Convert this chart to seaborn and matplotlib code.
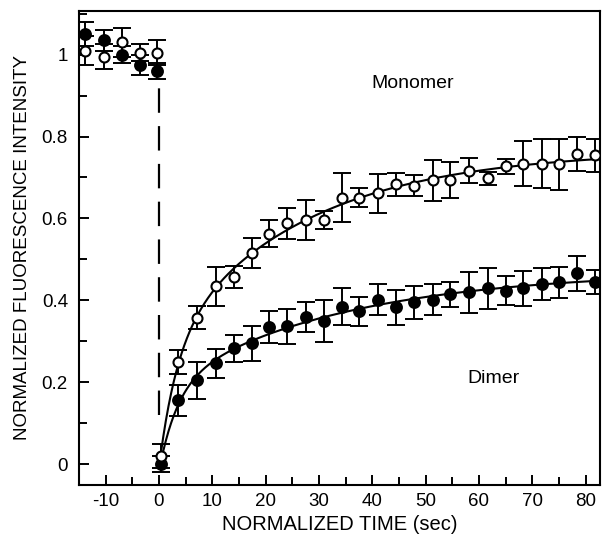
import numpy as np
import matplotlib
matplotlib.use("Agg")
import matplotlib.pyplot as plt
import seaborn as sns
from matplotlib.ticker import MultipleLocator, FixedLocator

# ---------------- data ----------------
time_pre = [-13.8, -10.3, -6.9, -3.5, -0.3]
mono_pre = [1.01, 0.995, 1.03, 1.005, 1.005]
mono_pre_err = [0.035, 0.03, 0.035, 0.02, 0.03]
dimer_pre = [1.05, 1.035, 1.0, 0.975, 0.96]
dimer_pre_err = [0.03, 0.025, 0.02, 0.025, 0.02]

time_bleach = [0.3]
mono_bleach = [0.02]
mono_bleach_err = [0.03]
dimer_bleach = [0.0]
dimer_bleach_err = [0.02]

time_post = [3.6, 7.1, 10.7, 14.1, 17.4, 20.6, 24.0, 27.6, 31.0, 34.3, 37.5, 41.0,
             44.5, 47.8, 51.4, 54.6, 58.2, 61.7, 65.0, 68.3, 71.9, 75.0, 78.4, 81.8]
mono_post = [0.249, 0.358, 0.434, 0.456, 0.515, 0.563, 0.588, 0.597, 0.597, 0.651, 0.651, 0.661,
             0.683, 0.680, 0.693, 0.693, 0.717, 0.698, 0.727, 0.734, 0.734, 0.732, 0.758, 0.754]
mono_post_err = [0.029, 0.028, 0.047, 0.027, 0.037, 0.033, 0.037, 0.049, 0.022, 0.059, 0.024, 0.047,
                 0.028, 0.025, 0.050, 0.044, 0.030, 0.016, 0.019, 0.054, 0.059, 0.062, 0.042, 0.041]
dimer_post = [0.156, 0.205, 0.246, 0.283, 0.295, 0.334, 0.337, 0.359, 0.349, 0.385, 0.373, 0.402,
              0.383, 0.395, 0.402, 0.415, 0.420, 0.429, 0.424, 0.429, 0.439, 0.444, 0.466, 0.444]
dimer_post_err = [0.038, 0.045, 0.036, 0.033, 0.043, 0.039, 0.043, 0.037, 0.051, 0.046, 0.035, 0.037,
                  0.042, 0.041, 0.038, 0.031, 0.050, 0.049, 0.036, 0.042, 0.039, 0.038, 0.042, 0.029]

x_ticks = [-10, 0, 10, 20, 30, 40, 50, 60, 70, 80]
y_ticks = [0, 0.2, 0.4, 0.6, 0.8, 1.0]
y_ticklabels = ["0", "0.2", "0.4", "0.6", "0.8", "1"]

# ---------------- style ----------------
sns.set_style("ticks")
plt.rcParams["font.family"] = ["Liberation Sans", "DejaVu Sans"]
plt.rcParams["axes.unicode_minus"] = False
plt.rcParams["text.color"] = "black"
plt.rcParams["axes.labelcolor"] = "black"
plt.rcParams["xtick.color"] = "black"
plt.rcParams["ytick.color"] = "black"

fig = plt.figure(figsize=(6.03, 5.39), dpi=100)
ax = fig.add_axes([0.131, 0.100, 0.864, 0.880])

t_all = np.array(time_pre + time_bleach + time_post)
mono_all = np.array(mono_pre + mono_bleach + mono_post)
mono_err_all = np.array(mono_pre_err + mono_bleach_err + mono_post_err)
dimer_all = np.array(dimer_pre + dimer_bleach + dimer_post)
dimer_err_all = np.array(dimer_pre_err + dimer_bleach_err + dimer_post_err)


def biexp_fit(t, y):
    """Least-squares recovery fit y = c + a(1-exp(-t/t1)) + b(1-exp(-t/t2))."""
    t = np.asarray(t); y = np.asarray(y)
    best = None
    for t1 in np.linspace(0.3, 8, 60):
        for t2 in np.linspace(8, 120, 80):
            X = np.column_stack([np.ones_like(t), 1 - np.exp(-t / t1), 1 - np.exp(-t / t2)])
            coef, *_ = np.linalg.lstsq(X, y, rcond=None)
            r = np.sum((X @ coef - y) ** 2)
            if best is None or r < best[0]:
                best = (r, t1, t2, coef)
    return best[1:]


tfit = np.linspace(0.3, 82.5, 500)
for ys in (mono_bleach + mono_post, dimer_bleach + dimer_post):
    t1, t2, coef = biexp_fit(time_bleach + time_post, ys)
    yfit = coef[0] + coef[1] * (1 - np.exp(-tfit / t1)) + coef[2] * (1 - np.exp(-tfit / t2))
    sns.lineplot(x=tfit, y=yfit, ax=ax, color="black", lw=1.5, zorder=2)

# vertical dashed line at photobleach
ax.plot([0, 0], [0.12, 0.925], color="black", lw=1.6, dashes=(11, 6), zorder=1)

# error bars
ekw = dict(fmt="none", ecolor="black", elinewidth=1.4, capsize=6.2, capthick=1.4, zorder=3)
ax.errorbar(t_all, dimer_all, yerr=dimer_err_all, **ekw)
ax.errorbar(t_all, mono_all, yerr=mono_err_all, **ekw)

# markers
sns.scatterplot(x=t_all, y=dimer_all, ax=ax, marker="o", s=65, color="black",
                edgecolor="black", linewidth=1.2, zorder=4)
sns.scatterplot(x=t_all, y=mono_all, ax=ax, marker="o", s=52, color="white",
                edgecolor="black", linewidth=1.5, zorder=5)

ax.text(47.5, 0.93, "Monomer", fontsize=14, ha="center", va="center")
ax.text(62.8, 0.21, "Dimer", fontsize=14, ha="center", va="center")

ax.set_xlim(-15, 82.7)
ax.set_ylim(-0.051, 1.107)
ax.xaxis.set_major_locator(FixedLocator(x_ticks))
ax.xaxis.set_minor_locator(MultipleLocator(5))
ax.set_yticks(y_ticks)
ax.set_yticklabels(y_ticklabels)
ax.yaxis.set_minor_locator(MultipleLocator(0.1))
ax.tick_params(which="both", direction="in", width=1.4, colors="black", labelsize=13.5)
ax.tick_params(which="major", length=7)
ax.tick_params(which="minor", length=6)
ax.tick_params(axis="y", pad=8)
ax.tick_params(axis="x", pad=6)

for s in ax.spines.values():
    s.set_visible(True)
    s.set_linewidth(1.5)
    s.set_color("black")

ax.set_xlabel("NORMALIZED TIME (sec)", fontsize=14.5, labelpad=3)
ax.set_ylabel("NORMALIZED FLUORESCENCE INTENSITY", fontsize=13.5, labelpad=8)

fig.savefig("out.png", dpi=100)
